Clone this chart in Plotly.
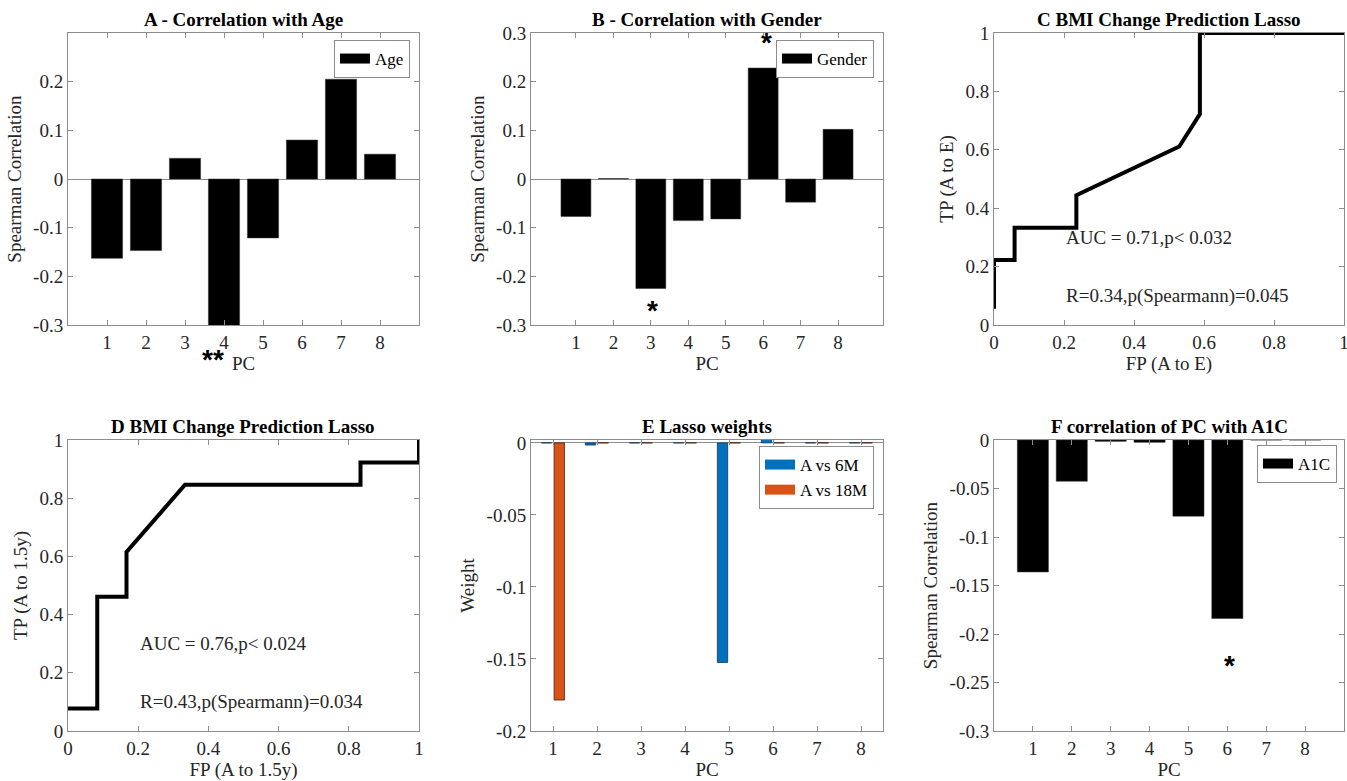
import plotly.graph_objects as go

# ---------------- data ----------------
pcs = [1, 2, 3, 4, 5, 6, 7, 8]
age_corr = [-0.163, -0.147, 0.0425, -0.32, -0.121, 0.080, 0.205, 0.051]
gender_corr = [-0.077, 0.001, -0.225, -0.0855, -0.082, 0.228, -0.0476, 0.102]
a1c_corr = [-0.136, -0.0425, -0.0014, -0.0024, -0.0785, -0.184, 0.0, 0.0]
lasso_6m = [0.0, -0.0015, 0.0, 0.0, -0.1524, 0.003, 0.0, 0.0]
lasso_18m = [-0.1785, 0.0, 0.0, 0.0, 0.0, 0.0, 0.0, 0.0]

roc_c_fp = [0, 0, 1/17, 1/17, 4/17, 4/17, 9/17, 10/17, 10/17, 1]
roc_c_tp = [1/18, 4/18, 4/18, 6/18, 6/18, 8/18, 11/18, 13/18, 1, 1]
roc_d_fp = [0, 1/12, 1/12, 2/12, 2/12, 4/12, 10/12, 10/12, 1, 1]
roc_d_tp = [1/13, 1/13, 6/13, 6/13, 8/13, 11/13, 11/13, 12/13, 12/13, 1]

titles = ["A - Correlation with Age", "B - Correlation with Gender",
          "C BMI Change Prediction Lasso", "D BMI Change Prediction Lasso",
          "E Lasso weights", "F correlation of PC with A1C"]

# ---------------- style ----------------
W, H = 1347, 781
SERIF = "Liberation Serif, Times New Roman, serif"
AXC = "#8c8c8c"
TXT = "#262626"
BLUE = "#0072BD"
ORANGE = "#D95319"


def dom_x(a, b):
    return [a / W, b / W]


def dom_y(top, bot):
    return [1 - bot / H, 1 - top / H]


fig = go.Figure()

# A
fig.add_trace(go.Bar(x=pcs, y=age_corr, width=0.8, marker=dict(color="black", line=dict(color="#333", width=0.5)),
                     xaxis="x", yaxis="y", showlegend=False))
fig.add_trace(go.Scatter(x=[None], y=[None], mode="lines", line=dict(color="black", width=14), name="Age",
                         xaxis="x", yaxis="y", legend="legend"))
# B
fig.add_trace(go.Bar(x=pcs, y=gender_corr, width=0.8, marker=dict(color="black", line=dict(color="#333", width=0.5)),
                     xaxis="x2", yaxis="y2", showlegend=False))
fig.add_trace(go.Scatter(x=[None], y=[None], mode="lines", line=dict(color="black", width=14), name="Gender",
                         xaxis="x2", yaxis="y2", legend="legend2"))
# C
fig.add_trace(go.Scatter(x=roc_c_fp, y=roc_c_tp, mode="lines", line=dict(color="black", width=4),
                         xaxis="x3", yaxis="y3", showlegend=False))
# D
fig.add_trace(go.Scatter(x=roc_d_fp, y=roc_d_tp, mode="lines", line=dict(color="black", width=4),
                         xaxis="x4", yaxis="y4", showlegend=False))
# E
fig.add_trace(go.Bar(x=pcs, y=lasso_6m, width=0.235, offset=-0.265,
                     marker=dict(color=BLUE, line=dict(color="#1a3550", width=0.8)),
                     xaxis="x5", yaxis="y5", showlegend=False))
fig.add_trace(go.Bar(x=pcs, y=lasso_18m, width=0.235, offset=0.025,
                     marker=dict(color=ORANGE, line=dict(color="#4a2010", width=0.8)),
                     xaxis="x5", yaxis="y5", showlegend=False))
fig.add_trace(go.Scatter(x=[None], y=[None], mode="lines", line=dict(color=BLUE, width=14), name="A vs 6M",
                         xaxis="x5", yaxis="y5", legend="legend3"))
fig.add_trace(go.Scatter(x=[None], y=[None], mode="lines", line=dict(color=ORANGE, width=14), name="A vs 18M",
                         xaxis="x5", yaxis="y5", legend="legend3"))
# F
fig.add_trace(go.Bar(x=pcs, y=a1c_corr, width=0.8, marker=dict(color="black", line=dict(color="#333", width=0.5)),
                     xaxis="x6", yaxis="y6", showlegend=False))
fig.add_trace(go.Scatter(x=[None], y=[None], mode="lines", line=dict(color="black", width=14), name="A1C",
                         xaxis="x6", yaxis="y6", legend="legend4"))

tickfont = dict(family=SERIF, size=19, color=TXT)
titlefont = dict(family=SERIF, size=19, color=TXT)


def xax(domain, anchor, rng, tickvals, ticktext, title):
    return dict(domain=domain, anchor=anchor, range=rng, tickvals=tickvals, ticktext=ticktext,
                automargin=False, ticklabeloverflow="allow",
                showgrid=False, zeroline=False, showline=True, linecolor=AXC, linewidth=1,
                mirror="ticks", ticks="inside", ticklen=5, tickcolor=AXC, tickfont=tickfont,
                title=dict(text=title, font=titlefont, standoff=4))


def yax(domain, anchor, rng, tickvals, ticktext, title, zl=False):
    return dict(domain=domain, anchor=anchor, range=rng, tickvals=tickvals, ticktext=ticktext,
                automargin=False,
                showgrid=False, zeroline=zl, zerolinecolor=AXC, zerolinewidth=1,
                showline=True, linecolor=AXC, linewidth=1,
                mirror="ticks", ticks="inside", ticklen=5, tickcolor=AXC, tickfont=tickfont,
                title=dict(text=title, font=titlefont, standoff=6))


topR = (33, 325)
botR = (440, 731)
colA = (68, 419)
colB = (531, 883)
colC = (994, 1344)

corr_ticks = [-0.3, -0.2, -0.1, 0, 0.1, 0.2]
corr_text = ["-0.3", "-0.2", "-0.1", "0", "0.1", "0.2"]
frac_ticks = [0, 0.2, 0.4, 0.6, 0.8, 1]
frac_text = ["0", "0.2", "0.4", "0.6", "0.8", "1"]
pc_text = [str(p) for p in pcs]

layout = dict(
    template="none",
    width=W, height=H, margin=dict(l=0, r=0, t=0, b=0, pad=0, autoexpand=False),
    paper_bgcolor="white", plot_bgcolor="white",
    barmode="overlay", font=dict(family=SERIF, color=TXT),
    xaxis=xax(dom_x(*colA), "y", [0, 9], pcs, pc_text, "PC"),
    yaxis=yax(dom_y(*topR), "x", [-0.3, 0.3], corr_ticks, corr_text, "Spearman Correlation", zl=True),
    xaxis2=xax(dom_x(*colB), "y2", [-0.2, 9.2], pcs, pc_text, "PC"),
    yaxis2=yax(dom_y(*topR), "x2", [-0.3, 0.3], corr_ticks + [0.3], corr_text + ["0.3"], "Spearman Correlation", zl=True),
    xaxis3=xax(dom_x(*colC), "y3", [0, 1], frac_ticks, frac_text, "FP (A to E)"),
    yaxis3=yax(dom_y(*topR), "x3", [0, 1], frac_ticks, frac_text, "TP (A to E)"),
    xaxis4=xax(dom_x(*colA), "y4", [0, 1], frac_ticks, frac_text, "FP (A to 1.5y)"),
    yaxis4=yax(dom_y(*botR), "x4", [0, 1], frac_ticks, frac_text, "TP (A to 1.5y)"),
    xaxis5=xax(dom_x(*colB), "y5", [0.5, 8.5], pcs, pc_text, "PC"),
    yaxis5=yax(dom_y(*botR), "x5", [-0.2, 0.002], [-0.2, -0.15, -0.1, -0.05, 0],
               ["-0.2", "-0.15", "-0.1", "-0.05", "0"], "Weight", zl=True),
    xaxis6=xax(dom_x(*colC), "y6", [0, 9], pcs, pc_text, "PC"),
    yaxis6=yax(dom_y(*botR), "x6", [-0.3, 0], [-0.3, -0.25, -0.2, -0.15, -0.1, -0.05, 0],
               ["-0.3", "-0.25", "-0.2", "-0.15", "-0.1", "-0.05", "0"], "Spearman Correlation"),
)

legfont = dict(family=SERIF, size=17, color="black")


def leg(xr, yt):
    return dict(x=xr / W, y=1 - yt / H, xanchor="right", yanchor="top", bgcolor="white",
                bordercolor=AXC, borderwidth=1, font=legfont, itemwidth=30,
                tracegroupgap=0, itemclick=False)


layout["legend"] = leg(410, 40)
layout["legend2"] = leg(874, 40)
layout["legend3"] = leg(874, 446)
layout["legend4"] = leg(1337, 445)

annotations = []
axes_ids = ["", "2", "3", "4", "5", "6"]
for t, ax in zip(titles, axes_ids):
    annotations.append(dict(text="<b>%s</b>" % t, xref="x%s domain" % ax, yref="y%s domain" % ax,
                            x=0.5, y=1, xanchor="center", yanchor="bottom", yshift=1, showarrow=False,
                            font=dict(family=SERIF, size=19, color="black")))

# statistics text
annotations += [
    dict(text="AUC = 0.71,p< 0.032", xref="x3", yref="y3", x=0.2, y=0.3, xanchor="left", yanchor="middle",
         showarrow=False, font=dict(family=SERIF, size=19, color=TXT)),
    dict(text="R=0.34,p(Spearmann)=0.045", xref="x3", yref="y3", x=0.2, y=0.1, xanchor="left", yanchor="middle",
         showarrow=False, font=dict(family=SERIF, size=19, color=TXT)),
    dict(text="AUC = 0.76,p< 0.024", xref="x4", yref="y4", x=0.2, y=0.3, xanchor="left", yanchor="middle",
         showarrow=False, font=dict(family=SERIF, size=19, color=TXT)),
    dict(text="R=0.43,p(Spearmann)=0.034", xref="x4", yref="y4", x=0.2, y=0.1, xanchor="left", yanchor="middle",
         showarrow=False, font=dict(family=SERIF, size=19, color=TXT)),
]

# significance markers
star_font = dict(family="Liberation Sans, Arial, sans-serif", size=28, color="black")
annotations += [
    dict(text="<b>**</b>", xref="x", yref="y domain", x=3.72, y=-0.118, showarrow=False, font=star_font,
         yanchor="middle"),
    dict(text="<b>*</b>", xref="x2", yref="y2", x=6.1, y=0.28, showarrow=False, font=star_font, yanchor="middle"),
    dict(text="<b>*</b>", xref="x2", yref="y2", x=3.05, y=-0.27, showarrow=False, font=star_font, yanchor="middle"),
    dict(text="<b>*</b>", xref="x6", yref="y6", x=6.05, y=-0.232, showarrow=False, font=star_font,
         yanchor="middle"),
]
layout["annotations"] = annotations

fig.update_layout(**layout)
fig.write_html("out.html")
